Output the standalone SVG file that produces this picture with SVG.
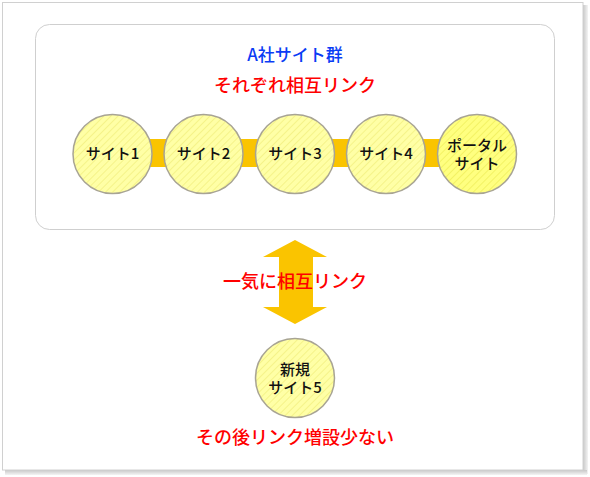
<svg xmlns="http://www.w3.org/2000/svg" width="590" height="477" viewBox="0 0 590 477">
<defs>
<pattern id="hatch" patternUnits="userSpaceOnUse" width="5" height="5" patternTransform="rotate(-45)">
<rect width="5" height="5" fill="#FFFFA6"/>
<line x1="0" y1="0" x2="5" y2="0" stroke="#F2F080" stroke-width="1.5"/>
</pattern>
<pattern id="hatch2" patternUnits="userSpaceOnUse" width="5" height="5" patternTransform="rotate(-45)">
<rect width="5" height="5" fill="#FFFF80"/>
<line x1="0" y1="0" x2="5" y2="0" stroke="#F0EE5A" stroke-width="1.5"/>
</pattern>
<linearGradient id="shR" x1="0" x2="1" y1="0" y2="0">
<stop offset="0" stop-color="#c8c8c8"/><stop offset="1" stop-color="#f4f4f4"/>
</linearGradient>
<linearGradient id="shB" x1="0" x2="0" y1="0" y2="1">
<stop offset="0" stop-color="#c8c8c8"/><stop offset="1" stop-color="#f4f4f4"/>
</linearGradient>
</defs>
<style>
.node{stroke:#A8A494;stroke-width:1.5}
.lbl{font-family:"Noto Sans CJK JP","Noto Sans",sans-serif;font-size:15px;font-weight:500;fill:#111;text-anchor:middle}
.title{font-family:"Noto Sans CJK JP","Noto Sans",sans-serif;font-size:18px;font-weight:500;text-anchor:middle}
.red{fill:#FF0000}
.blue{fill:#0A3CF5}
.bar{fill:#FAC400}
</style>
<rect x="0" y="0" width="590" height="477" fill="#fff"/>
<rect x="583" y="5" width="5" height="469" fill="url(#shR)"/>
<rect x="5" y="470" width="582" height="5" fill="url(#shB)"/>
<rect x="2.5" y="2.5" width="580.5" height="467.5" fill="#fff" stroke="#d0d0d0" stroke-width="1"/>
<rect x="35.5" y="24.5" width="519" height="205" rx="14" ry="14" fill="#fff" stroke="#cfcfcf" stroke-width="1"/>
<text class="title blue" x="295" y="61" style="font-size:17px">A社サイト群</text>
<text class="title red" x="295" y="92">それぞれ相互リンク</text>
<g id="connectors">
<rect class="bar" x="112" y="139" width="365" height="28"/>
<polygon class="bar" points="295,240 327,257 313,257 313,307 327,307 295,324 263,307 279,307 279,257 263,257"/>
</g>
<g id="site1"><circle class="node" cx="112.5" cy="154" r="39.5" fill="url(#hatch)"/><text class="lbl" x="112.5" y="159">サイト1</text></g>
<g id="site2"><circle class="node" cx="203.5" cy="154" r="39.5" fill="url(#hatch)"/><text class="lbl" x="203.5" y="159">サイト2</text></g>
<g id="site3"><circle class="node" cx="295" cy="154" r="39.5" fill="url(#hatch)"/><text class="lbl" x="295" y="159">サイト3</text></g>
<g id="site4"><circle class="node" cx="386" cy="154" r="39.5" fill="url(#hatch)"/><text class="lbl" x="386" y="159">サイト4</text></g>
<g id="portal"><circle class="node" cx="477" cy="154" r="39.5" fill="url(#hatch2)"/><text class="lbl" x="477" y="151">ポータル</text><text class="lbl" x="477" y="169">サイト</text></g>
<text class="title red" x="295" y="288">一気に相互リンク</text>
<g id="site5"><circle class="node" cx="295" cy="378" r="39.5" fill="url(#hatch)"/><text class="lbl" x="295" y="375">新規</text><text class="lbl" x="295" y="393">サイト5</text></g>
<text class="title red" x="295" y="444">その後リンク増設少ない</text>
</svg>
